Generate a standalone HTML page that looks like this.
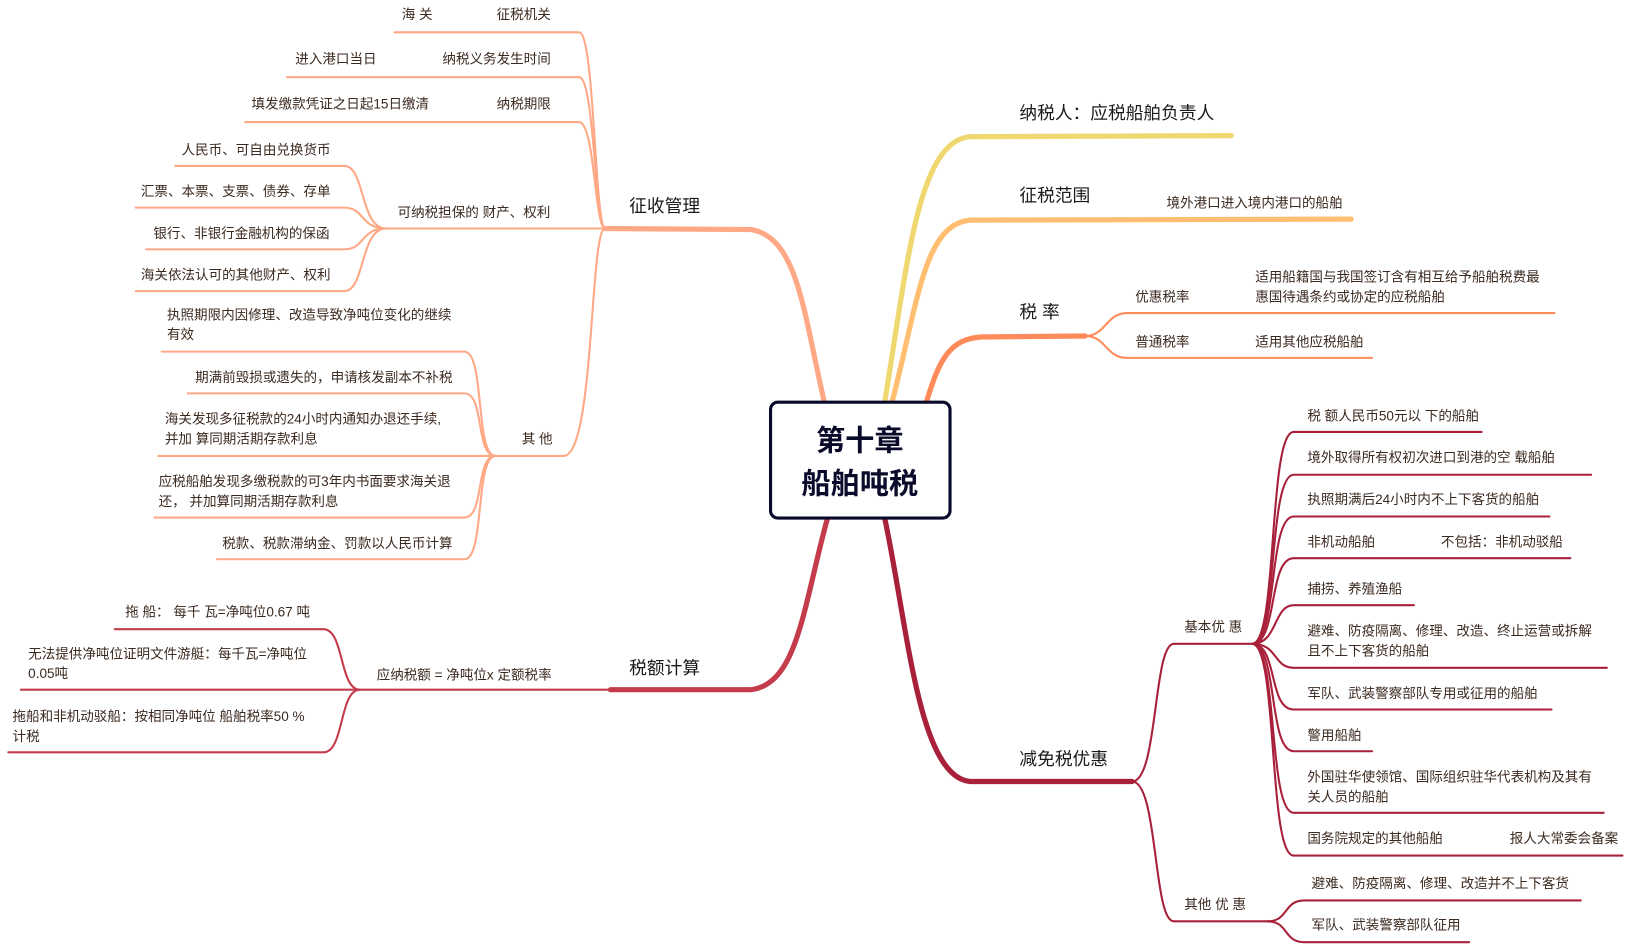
<!DOCTYPE html>
<html><head><meta charset="utf-8"><style>
html,body{margin:0;padding:0;background:#fff;}
svg{display:block;}
text{font-family:"Liberation Sans","Noto Sans CJK SC",sans-serif;fill:#3b2a20;font-size:13px;}
.m{font-size:17px;fill:#1a1a1a;}
</style></head><body>
<svg width="1636" height="952" viewBox="0 0 1636 952" xmlns="http://www.w3.org/2000/svg">
<g transform="scale(1.0434)">
<g fill="none" stroke-linecap="round">
<!-- 征收管理 -->
<g stroke="#ffa886">
<path d="M790 385 C770 300,765 228,720 220 L580 219" stroke-width="5"/>
<g stroke-width="2">
<path d="M378 31 L555 31 C570 31,570 219,580 219"/>
<path d="M275 74 L555 74 C570 74,570 219,580 219"/>
<path d="M235 117 L555 117 C570 117,570 219,580 219"/>
<path d="M370 219 L580 219"/>
<path d="M168 159 L330 159 C350 159,345 219,370 219"/>
<path d="M130 199 L330 199 C350 199,345 219,370 219"/>
<path d="M140 239 L330 239 C350 239,345 219,370 219"/>
<path d="M130 279 L330 279 C350 279,345 219,370 219"/>
<path d="M475 437 L540 437 C570 437,565 219,580 219"/>
<path d="M155 337 L445 337 C465 337,455 437,475 437"/>
<path d="M180 377 L445 377 C465 377,455 437,475 437"/>
<path d="M152 437 L475 437"/>
<path d="M148 496 L445 496 C465 496,455 437,475 437"/>
<path d="M208 536 L445 536 C465 536,455 437,475 437"/>
</g></g>
<!-- 税额计算 -->
<g stroke="#c43c4c">
<path d="M793 497 C770 580,765 655,720 661 L585 661" stroke-width="5"/>
<g stroke-width="2">
<path d="M345 661 L585 661"/>
<path d="M110 603 L310 603 C330 603,325 661,345 661"/>
<path d="M20 661 L345 661"/>
<path d="M8 721 L310 721 C330 721,325 661,345 661"/>
</g></g>
<!-- 纳税人 -->
<path d="M848 385 C870 250,880 135,930 131 L1180 130" stroke="#f0d870" stroke-width="5"/>
<!-- 征税范围 -->
<path d="M855 385 C880 290,885 215,930 211 L1295 210" stroke="#ffbe70" stroke-width="5"/>
<!-- 税率 -->
<g stroke="#ff8a5a">
<path d="M888 385 C900 345,910 325,940 323 L1040 322" stroke-width="5"/>
<g stroke-width="2">
<path d="M1040 322 C1060 322,1060 300,1080 300 L1490 300"/>
<path d="M1040 322 C1060 322,1060 343,1080 343 L1315 343"/>
</g></g>
<!-- 减免税优惠 -->
<g stroke="#a8203a">
<path d="M848 497 C870 600,880 745,930 749 L1085 749" stroke-width="5"/>
<g stroke-width="2">
<path d="M1085 749 C1110 749,1105 617,1125 617 L1200 617"/>
<path d="M1085 749 C1110 749,1105 883,1125 883 L1215 883"/>
<path d="M1200 617 C1225 617,1215 414,1240 414 L1420 414"/>
<path d="M1200 617 C1225 617,1215 455,1240 455 L1525 455"/>
<path d="M1200 617 C1225 617,1215 495,1240 495 L1485 495"/>
<path d="M1200 617 C1225 617,1215 535,1240 535 L1505 535"/>
<path d="M1200 617 C1225 617,1220 580,1240 580 L1355 580"/>
<path d="M1200 617 C1225 617,1220 640,1240 640 L1540 640"/>
<path d="M1200 617 C1225 617,1215 680,1240 680 L1487 680"/>
<path d="M1200 617 C1225 617,1215 720,1240 720 L1315 720"/>
<path d="M1200 617 C1225 617,1215 779,1240 779 L1537 779"/>
<path d="M1200 617 C1225 617,1215 820,1240 820 L1555 820"/>
<path d="M1215 883 C1235 883,1230 863,1250 863 L1515 863"/>
<path d="M1215 883 C1235 883,1230 903,1250 903 L1408 903"/>
</g></g>
</g>
<!-- center -->
<rect x="738.5" y="385.5" width="172" height="111" rx="7" fill="#fff" stroke="#0a0a2a" stroke-width="3"/>
<text x="824" y="432" text-anchor="middle" style="font-size:28px;font-weight:bold;fill:#0a0a2a">第十章</text>
<text x="824" y="473" text-anchor="middle" style="font-size:28px;font-weight:bold;fill:#0a0a2a">船舶吨税</text>
<!-- main labels -->
<text class="m" x="603" y="203">征收管理</text>
<text class="m" x="603" y="646">税额计算</text>
<text class="m" x="977" y="114">纳税人：应税船舶负责人</text>
<text class="m" x="977" y="193">征税范围</text>
<text class="m" x="977" y="305">税 率</text>
<text class="m" x="977" y="733">减免税优惠</text>
<!-- left texts -->
<text x="385" y="18">海 关</text><text x="476" y="18">征税机关</text>
<text x="283" y="61">进入港口当日</text><text x="424" y="61">纳税义务发生时间</text>
<text x="241" y="104">填发缴款凭证之日起15日缴清</text><text x="476" y="104">纳税期限</text>
<text x="381" y="208">可纳税担保的 财产、权利</text>
<text x="174" y="148">人民币、可自由兑换货币</text>
<text x="135" y="188">汇票、本票、支票、债券、存单</text>
<text x="147" y="228">银行、非银行金融机构的保函</text>
<text x="135" y="268">海关依法认可的其他财产、权利</text>
<text x="500" y="425">其 他</text>
<text x="160" y="306">执照期限内因修理、改造导致净吨位变化的继续</text>
<text x="160" y="325">有效</text>
<text x="187" y="366">期满前毁损或遗失的，申请核发副本不补税</text>
<text x="158" y="406">海关发现多征税款的24小时内通知办退还手续,</text>
<text x="158" y="425">并加 算同期活期存款利息</text>
<text x="152" y="466">应税船舶发现多缴税款的可3年内书面要求海关退</text>
<text x="152" y="485">还， 并加算同期活期存款利息</text>
<text x="213" y="525">税款、税款滞纳金、罚款以人民币计算</text>
<text x="361" y="651">应纳税额 = 净吨位x 定额税率</text>
<text x="120" y="591">拖 船： 每千 瓦=净吨位0.67 吨</text>
<text x="27" y="631">无法提供净吨位证明文件游艇：每千瓦=净吨位</text>
<text x="27" y="650">0.05吨</text>
<text x="12" y="691">拖船和非机动驳船：按相同净吨位 船舶税率50 %</text>
<text x="12" y="710">计税</text>
<!-- right texts -->
<text x="1118" y="199">境外港口进入境内港口的船舶</text>
<text x="1088" y="289">优惠税率</text>
<text x="1203" y="270">适用船籍国与我国签订含有相互给予船舶税费最</text>
<text x="1203" y="289">惠国待遇条约或协定的应税船舶</text>
<text x="1088" y="332">普通税率</text>
<text x="1203" y="332">适用其他应税船舶</text>
<text x="1135" y="605">基本优 惠</text>
<text x="1135" y="871">其他 优 惠</text>
<text x="1253" y="403">税 额人民币50元以 下的船舶</text>
<text x="1253" y="443">境外取得所有权初次进口到港的空 载船舶</text>
<text x="1253" y="483">执照期满后24小时内不上下客货的船舶</text>
<text x="1253" y="524">非机动船舶</text><text x="1381" y="524">不包括：非机动驳船</text>
<text x="1253" y="569">捕捞、养殖渔船</text>
<text x="1253" y="609">避难、防疫隔离、修理、改造、终止运营或拆解</text>
<text x="1253" y="628">且不上下客货的船舶</text>
<text x="1253" y="669">军队、武装警察部队专用或征用的船舶</text>
<text x="1253" y="709">警用船舶</text>
<text x="1253" y="749">外国驻华使领馆、国际组织驻华代表机构及其有</text>
<text x="1253" y="768">关人员的船舶</text>
<text x="1253" y="808">国务院规定的其他船舶</text><text x="1447" y="808">报人大常委会备案</text>
<text x="1257" y="851">避难、防疫隔离、修理、改造并不上下客货</text>
<text x="1257" y="891">军队、武装警察部队征用</text>
</g>
</svg>
</body></html>
